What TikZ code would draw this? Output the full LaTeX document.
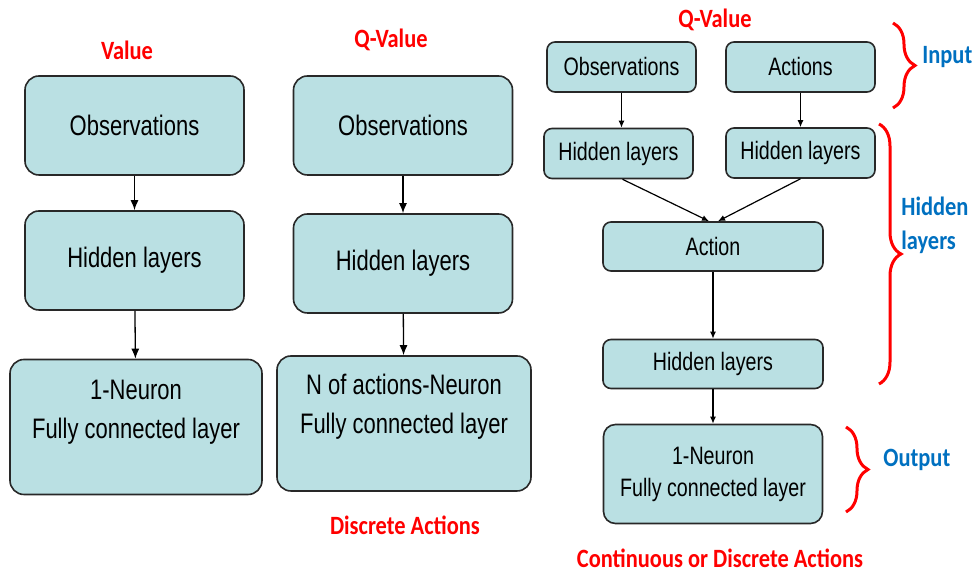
\documentclass[tikz,border=0pt]{standalone}
\usepackage{fontspec}
\setmainfont[FakeStretch=0.78]{Liberation Sans}
\newfontfamily\labelfont[FakeStretch=0.85]{Carlito}
\usetikzlibrary{arrows.meta,positioning,calc,decorations.pathreplacing}

\definecolor{boxfill}{RGB}{186,224,227}
\definecolor{boxline}{RGB}{40,40,40}
\definecolor{tagred}{RGB}{255,0,0}
\definecolor{tagblue}{RGB}{0,112,192}

\begin{document}
\begin{tikzpicture}[
    x=0.5pt, y=-0.5pt,
    % node styles
    bigbox/.style   = {draw=boxline, line width=0.8pt, fill=boxfill,
                       rounded corners=7pt, align=center, inner sep=2pt,
                       minimum width=109.5pt, minimum height=49.5pt,
                       font=\fontsize{14.1}{19}\selectfont},
    fcbox/.style    = {bigbox, minimum width=126pt, minimum height=67.5pt},
    bigtext/.style  = {align=center, inner sep=0pt,
                       font=\fontsize{14.1}{19.5}\selectfont},
    smallbox/.style = {draw=boxline, line width=0.8pt, fill=boxfill,
                       rounded corners=4pt, align=center, inner sep=2pt,
                       minimum width=74.5pt, minimum height=25pt,
                       font=\fontsize{12.6}{16}\selectfont},
    widebox/.style  = {smallbox, minimum width=110pt, minimum height=24.5pt},
    % titles and brace tags
    title/.style    = {font=\labelfont\bfseries\fontsize{13.2}{13}\selectfont,
                       text=tagred, inner sep=1pt},
    tag/.style      = {font=\labelfont\bfseries\fontsize{13.2}{17}\selectfont,
                       text=tagblue, inner sep=1pt, anchor=west, align=left},
    % edges
    bigarrow/.style   = {-{Latex[length=5pt,width=4pt]}, line width=0.65pt},
    smallarrow/.style = {-{Latex[length=3.5pt,width=3pt]}, line width=0.6pt},
    redbrace/.style   = {draw=tagred, line width=1.5pt,
                         decorate, decoration={brace, amplitude=11pt}}
  ]
\useasboundingbox (0,0) rectangle (976,576);

% ============================================================
% Value network (left column)
% ============================================================
\node[title] (valtitle) at (127,50) {Value};
\node[bigbox] (obsA) at (134.5,125.5) {Observations};
\node[bigbox] (hidA) at (134.5,260.5) {Hidden layers};
\node[fcbox]  (fcA)  at (136,427) {};
\node[bigtext] (fcAtext) at ([yshift=7.5pt]fcA.center)
  {1-Neuron\\Fully connected layer};

\draw[bigarrow] (obsA) -- (hidA);
\draw[bigarrow] (hidA) -- (fcA);

% ============================================================
% Q-value network, discrete actions (middle column)
% ============================================================
\node[title] (qtitleB) at (391,40) {Q-Value};
\node[bigbox] (obsB) at (403,125.5) {Observations};
\node[bigbox] (hidB) at (403,263.5) {Hidden layers};
\node[fcbox, minimum width=127pt] (fcB) at (404,423.5) {};
\node[bigtext] (fcBtext) at ([yshift=8.5pt]fcB.center)
  {N of actions-Neuron\\Fully connected layer};
\node[title] (discB) at (405,525) {Discrete Actions};

\draw[bigarrow] (obsB) -- (hidB);
\draw[bigarrow] (hidB) -- (fcB);

% ============================================================
% Q-value network, observations + actions (right column)
% ============================================================
\node[title] (qtitleC) at (715,20) {Q-Value};
\node[smallbox] (obsC) at (621.5,67) {Observations};
\node[smallbox] (actC) at (800.5,67) {Actions};
\node[smallbox] (hidC1) at (618.5,153.5) {Hidden layers};
\node[smallbox] (hidC2) at (800.5,153) {Hidden layers};
\node[widebox] (actionC) at (713,246.5) {Action};
\node[widebox] (hidC3) at (713,364) {Hidden layers};
\node[smallbox, rounded corners=6pt, minimum width=109.5pt,
      minimum height=49.5pt] (fcC) at (713,474)
  {1-Neuron\\Fully connected layer};
\node[title] (contC) at (720,558) {Continuous or Discrete Actions};

\draw[smallarrow] (obsC) -- (obsC |- hidC1.north);
\draw[smallarrow] (actC) -- (hidC2);
\draw[smallarrow] ([xshift=2pt]hidC1.south) -- ([xshift=-2pt]actionC.north);
\draw[smallarrow] (hidC2.south) -- ([xshift=2.5pt]actionC.north);
\draw[smallarrow] (actionC) -- (hidC3);
\draw[smallarrow] (hidC3) -- (fcC);

% braces on the right
\coordinate (inTop) at (893,23);
\coordinate (inBot) at (893,108);
\coordinate (hidTop) at (879,124);
\coordinate (hidBot) at (879,384);
\coordinate (outTop) at (846,427);
\coordinate (outBot) at (846,512);

\draw[redbrace] (inTop) -- (inBot);
\draw[redbrace] (hidTop) -- (hidBot);
\draw[redbrace] (outTop) -- (outBot);

\node[tag] (inTag)  at (920,57)  {Input};
\node[tag] (hidTag) at (899,225) {Hidden\\layers};
\node[tag] (outTag) at (881,460) {Output};

\end{tikzpicture}
\end{document}
